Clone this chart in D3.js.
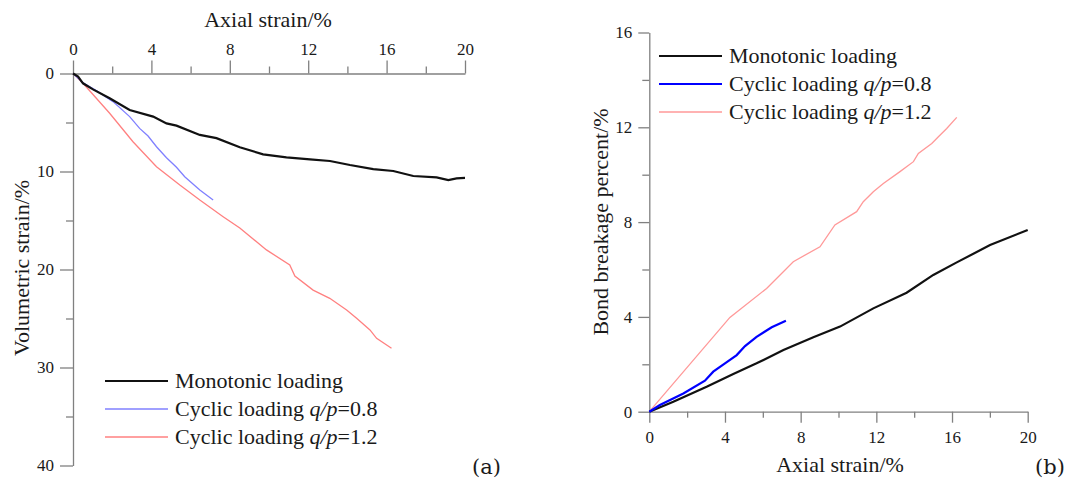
<!DOCTYPE html>
<html>
<head>
<meta charset="utf-8">
<script src="https://cdn.jsdelivr.net/npm/d3@7"></script>
<style>
body{margin:0;background:#fff;}
svg text{font-family:"Liberation Serif","Times New Roman",serif;fill:#1a1a1a;}
.ax path,.ax line{stroke:#808080;stroke-width:1.3;}
.ax text{font-size:17px;}
</style>
</head>
<body>
<script>
// (a) volumetric strain vs axial strain
const volMono=[[0,0],[0.26,0.32],[0.51,1.0],[1.02,1.62],[1.87,2.53],[2.89,3.72],[4.09,4.4],[4.77,5.09],[5.28,5.32],[6.47,6.27],[7.32,6.6],[8.51,7.53],[9.7,8.25],[10.89,8.55],[12.09,8.76],[13.11,8.93],[14.13,9.34],[15.32,9.75],[16.34,9.95],[17.36,10.46],[18.55,10.6],[19.15,10.87],[19.57,10.7],[20,10.66]];
const volC08=[[0,0],[0.51,0.94],[1.19,1.75],[2.04,2.87],[2.89,4.4],[3.4,5.6],[3.83,6.38],[4.26,7.47],[4.77,8.59],[5.28,9.57],[5.7,10.53],[6.47,11.89],[7.15,12.91]];
const volC12=[[0,0],[0.51,1.0],[1.87,4.06],[3.06,6.96],[4.26,9.51],[5.45,11.38],[6.47,12.91],[7.66,14.61],[8.51,15.77],[9.87,18.0],[11.06,19.54],[11.32,20.66],[12.25,22.1],[13.1,22.94],[13.96,24.13],[14.47,24.98],[15.15,26.17],[15.49,27.02],[16.25,28.04]];
// (b) bond breakage vs axial strain
const bondMono=[[0,0],[1.27,0.42],[3.03,1.05],[4.44,1.59],[5.67,2.04],[7.09,2.6],[8.67,3.14],[10.08,3.59],[11.84,4.36],[13.6,5.02],[15.01,5.77],[16.25,6.3],[18.01,7.03],[20,7.67]];
const bondC08=[[0,0],[0.56,0.28],[1.8,0.77],[2.94,1.31],[3.38,1.69],[4.0,2.04],[4.62,2.39],[5.06,2.77],[5.67,3.16],[6.47,3.56],[7.22,3.84]];
const bondC12=[[0,0],[4.26,3.98],[6.2,5.2],[7.61,6.33],[9.02,6.96],[9.81,7.88],[10.96,8.44],[11.31,8.86],[11.84,9.28],[12.37,9.63],[13.25,10.13],[13.96,10.55],[14.22,10.9],[14.93,11.32],[15.28,11.6],[15.72,11.95],[16.25,12.42]];

const xMajor=[0,4,8,12,16,20], xMinor=[2,6,10,14,18];
const volMajor=[0,10,20,30,40], volMinor=[5,15,25,35];
const bondMajor=[0,4,8,12,16], bondMinor=[2,6,10,14];
const legendNames=["Monotonic loading","Cyclic loading ","Cyclic loading "];
const legendRatio=["","0.8","1.2"];

const svg=d3.select("body").append("svg").attr("width",1071).attr("height",480);

// ---------- panel (a)
const xa=d3.scaleLinear().domain([0,20]).range([73,465]);
const ya=d3.scaleLinear().domain([0,40]).range([73.5,465.5]);

svg.append("g").attr("class","ax").attr("transform","translate(0,73.5)")
  .call(d3.axisTop(xa).tickValues(xMajor).tickSize(13).tickSizeOuter(0).tickPadding(6));
svg.append("g").attr("class","ax").attr("transform","translate(0,73.5)")
  .call(d3.axisTop(xa).tickValues(xMinor).tickSize(7).tickFormat("")).select(".domain").remove();
svg.append("g").attr("class","ax").attr("transform","translate(73,0)")
  .call(d3.axisLeft(ya).tickValues(volMajor).tickSize(13).tickSizeOuter(0).tickPadding(6));
svg.append("g").attr("class","ax").attr("transform","translate(73,0)")
  .call(d3.axisLeft(ya).tickValues(volMinor).tickSize(7).tickFormat("")).select(".domain").remove();

svg.append("text").attr("x",268).attr("y",27).attr("text-anchor","middle").style("font-size","22px").text("Axial strain/%");
svg.append("text").attr("transform","translate(29,268) rotate(-90)").attr("text-anchor","middle").style("font-size","22px").text("Volumetric strain/%");

const lineA=d3.line().x(d=>xa(d[0])).y(d=>ya(d[1]));
svg.append("path").datum(volC12).attr("d",lineA).attr("fill","none").attr("stroke","#ff8080").attr("stroke-width",1.3);
svg.append("path").datum(volC08).attr("d",lineA).attr("fill","none").attr("stroke","#8080ff").attr("stroke-width",1.3);
svg.append("path").datum(volMono).attr("d",lineA).attr("fill","none").attr("stroke","#111").attr("stroke-width",2.2);

// ---------- panel (b)
const xb=d3.scaleLinear().domain([0,20]).range([649.3,1027.7]);
const yb=d3.scaleLinear().domain([0,16]).range([411.7,32.5]);

svg.append("g").attr("class","ax").attr("transform","translate(0,411.7)")
  .call(d3.axisBottom(xb).tickValues(xMajor).tickSize(11).tickSizeOuter(0).tickPadding(8));
svg.append("g").attr("class","ax").attr("transform","translate(0,411.7)")
  .call(d3.axisBottom(xb).tickValues(xMinor).tickSize(6).tickFormat("")).select(".domain").remove();
svg.append("g").attr("class","ax").attr("transform","translate(649.3,0)")
  .call(d3.axisLeft(yb).tickValues(bondMajor).tickSize(11).tickSizeOuter(0).tickPadding(6));
svg.append("g").attr("class","ax").attr("transform","translate(649.3,0)")
  .call(d3.axisLeft(yb).tickValues(bondMinor).tickSize(7).tickFormat("")).select(".domain").remove();

svg.append("text").attr("x",840).attr("y",472).attr("text-anchor","middle").style("font-size","22px").text("Axial strain/%");
svg.append("text").attr("transform","translate(608,222) rotate(-90)").attr("text-anchor","middle").style("font-size","22px").text("Bond breakage percent/%");

const lineB=d3.line().x(d=>xb(d[0])).y(d=>yb(d[1]));
svg.append("path").datum(bondC12).attr("d",lineB).attr("fill","none").attr("stroke","#ff9999").attr("stroke-width",1.3);
svg.append("path").datum(bondMono).attr("d",lineB).attr("fill","none").attr("stroke","#111").attr("stroke-width",2.2);
svg.append("path").datum(bondC08).attr("d",lineB).attr("fill","none").attr("stroke","#0000ff").attr("stroke-width",2.2);

// ---------- legends
function legend(x0,y0,colors,widths){
  const g=svg.append("g");
  legendNames.forEach((n,i)=>{
    const y=y0+i*28;
    g.append("line").attr("x1",x0).attr("x2",x0+63).attr("y1",y).attr("y2",y)
      .attr("stroke",colors[i]).attr("stroke-width",widths[i]);
    const t=g.append("text").attr("x",x0+70).attr("y",y+7).style("font-size","22px").text(n);
    if(legendRatio[i]){
      t.append("tspan").style("font-style","italic").text("q/p");
      t.append("tspan").text("="+legendRatio[i]);
    }
  });
}
legend(105,381,["#111","#8080ff","#ff8080"],[2.2,1.3,1.3]);
legend(659,56,["#111","#0000ff","#ff9999"],[2.2,2.2,1.3]);

svg.append("text").attr("x",472).attr("y",474).style("font-size","21px").style("font-family","'DejaVu Serif',serif").text("(a)");
svg.append("text").attr("x",1035).attr("y",474).style("font-size","21px").style("font-family","'DejaVu Serif',serif").text("(b)");
</script>
</body>
</html>
